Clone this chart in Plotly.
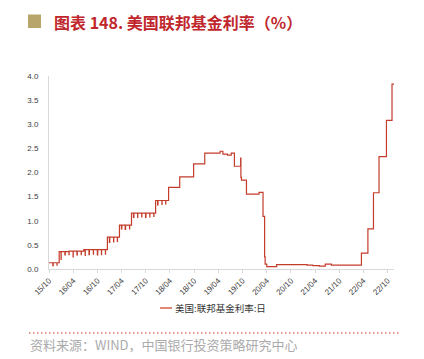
import pandas as pd
import plotly.graph_objects as go

# ---- data: effective federal funds rate (daily) ----
level_dates = ["2015-10-01", "2015-12-17", "2016-03-01", "2016-06-20", "2016-12-15",
               "2017-03-16", "2017-06-15", "2017-12-14", "2018-03-22", "2018-06-14",
               "2018-09-27", "2018-12-20", "2019-04-15", "2019-05-06", "2019-06-10",
               "2019-07-08", "2019-08-01", "2019-09-17", "2019-09-19", "2019-09-23",
               "2019-10-31", "2020-02-03", "2020-03-04", "2020-03-16", "2020-03-20",
               "2020-04-01", "2020-06-15", "2020-12-01", "2021-02-01", "2021-03-15",
               "2021-05-03", "2021-06-17", "2021-08-02", "2022-03-17", "2022-05-05",
               "2022-06-16", "2022-07-28", "2022-09-22", "2022-11-03", "2022-11-18"]
level_values = [0.13, 0.36, 0.37, 0.40, 0.66,
                0.91, 1.16, 1.42, 1.69, 1.91,
                2.18, 2.40, 2.44, 2.38, 2.36,
                2.40, 2.13, 2.30, 1.90, 1.84,
                1.55, 1.59, 1.09, 0.25, 0.10,
                0.05, 0.09, 0.09, 0.08, 0.07,
                0.06, 0.10, 0.08, 0.33, 0.83,
                1.58, 2.33, 3.08, 3.83, 3.83]

dip_dates = ["2015-10-30", "2015-11-30", "2015-12-31", "2016-01-29", "2016-02-29",
             "2016-03-31", "2016-04-29", "2016-05-31", "2016-06-30", "2016-07-29",
             "2016-08-31", "2016-09-30", "2016-10-31", "2016-11-30", "2016-12-30",
             "2017-01-31", "2017-02-28", "2017-03-31", "2017-04-28", "2017-05-31",
             "2017-06-30", "2017-07-31", "2017-08-31", "2017-09-29", "2017-10-31",
             "2017-11-30", "2017-12-29", "2018-01-31", "2018-02-28"]
dip_values = [0.07, 0.08, 0.20, 0.29, 0.30,
              0.25, 0.29, 0.30, 0.28, 0.30,
              0.31, 0.29, 0.30, 0.31, 0.55,
              0.56, 0.57, 0.83, 0.82, 0.83,
              1.07, 1.07, 1.08, 1.07, 1.08,
              1.09, 1.33, 1.34, 1.35]

tick_dates = ["2015-10-01", "2016-04-01", "2016-10-01", "2017-04-01", "2017-10-01",
              "2018-04-01", "2018-10-01", "2019-04-01", "2019-10-01", "2020-04-01",
              "2020-10-01", "2021-04-01", "2021-10-01", "2022-04-01", "2022-10-01"]
tick_labels = ["15/10", "16/04", "16/10", "17/04", "17/10", "18/04", "18/10", "19/04",
               "19/10", "20/04", "20/10", "21/04", "21/10", "22/04", "22/10"]

series_name = "美国:联邦基金利率:日"
title_text = "<b>图表 148. 美国联邦基金利率（%）</b>"
source_text = "资料来源：WIND，中国银行投资策略研究中心"

# ---- assemble step series: level changes plus one-day month-end dips ----
lv = pd.Series(level_values, index=pd.to_datetime(level_dates))
pts = {d: v for d, v in lv.items()}
for d, v in zip(pd.to_datetime(dip_dates), dip_values):
    pts[d] = v
    nxt = d + pd.offsets.BDay(1)
    if nxt not in pts:
        pts[nxt] = lv[lv.index <= nxt].iloc[-1]
s = pd.Series(pts).sort_index()

# ---- layout geometry ----
W, H = 424, 359
L, R, T, B = 49, 30, 76, 90
pw, ph = W - L - R, H - T - B


def px(x):
    return (x - L) / pw


def py(y):
    return (H - B - y) / ph


RED = "#C43C2C"
CJK = "Noto Sans CJK SC"

fig = go.Figure()
fig.add_trace(go.Scatter(x=s.index, y=s.values, mode="lines", name=series_name,
                         line=dict(color=RED, width=1.2, shape="hv"),
                         showlegend=False))

fig.update_layout(
    width=W, height=H, margin=dict(l=L, r=R, t=T, b=B),
    paper_bgcolor="white", plot_bgcolor="white",
    font=dict(family="Liberation Sans, Arial, sans-serif", size=8, color="#404040"),
    xaxis=dict(type="date", range=[s.index[0], s.index[-1]],
               tickmode="array", tickvals=pd.to_datetime(tick_dates), ticktext=tick_labels,
               tickangle=-45, showgrid=False, zeroline=False,
               showline=True, linecolor="#D9D9D9", linewidth=1,
               ticks="outside", ticklen=3, tickcolor="#D9D9D9",
               tickfont=dict(size=8, color="#404040")),
    yaxis=dict(range=[0, 4], dtick=0.5, tickformat=".1f", showgrid=False, zeroline=False,
               showline=True, linecolor="#D9D9D9", linewidth=1,
               ticks="", ticklabelstandoff=8,
               tickfont=dict(size=8, color="#404040")),
    shapes=[
        dict(type="rect", xref="paper", yref="paper",
             x0=px(28), x1=px(41), y0=py(28), y1=py(14.5),
             fillcolor="#B8A56C", line=dict(width=0)),
        dict(type="line", xref="paper", yref="paper",
             x0=px(160), x1=px(172), y0=py(308), y1=py(308),
             line=dict(color="#D9604A", width=1.5)),
        dict(type="line", xref="paper", yref="paper",
             x0=px(29), x1=px(401), y0=py(333), y1=py(333),
             line=dict(color="#E07A5F", width=1.5, dash="1.5px,2.5px")),
    ],
    annotations=[
        dict(text=title_text, xref="paper", yref="paper", x=px(52), y=py(21.5),
             xanchor="left", yanchor="middle", showarrow=False,
             font=dict(family=CJK, size=16, color="#C0272D")),
        dict(text=series_name, xref="paper", yref="paper", x=px(172.5), y=py(308),
             xanchor="left", yanchor="middle", showarrow=False,
             font=dict(family=CJK, size=9.5, color="#333333")),
        dict(text=source_text, xref="paper", yref="paper", x=px(28), y=py(344),
             xanchor="left", yanchor="middle", showarrow=False,
             font=dict(family=CJK, size=13, color="#ABABAB")),
    ],
)

fig.write_html("out.html", config={"displayModeBar": False},
               post_script="document.body.style.margin='0';")
